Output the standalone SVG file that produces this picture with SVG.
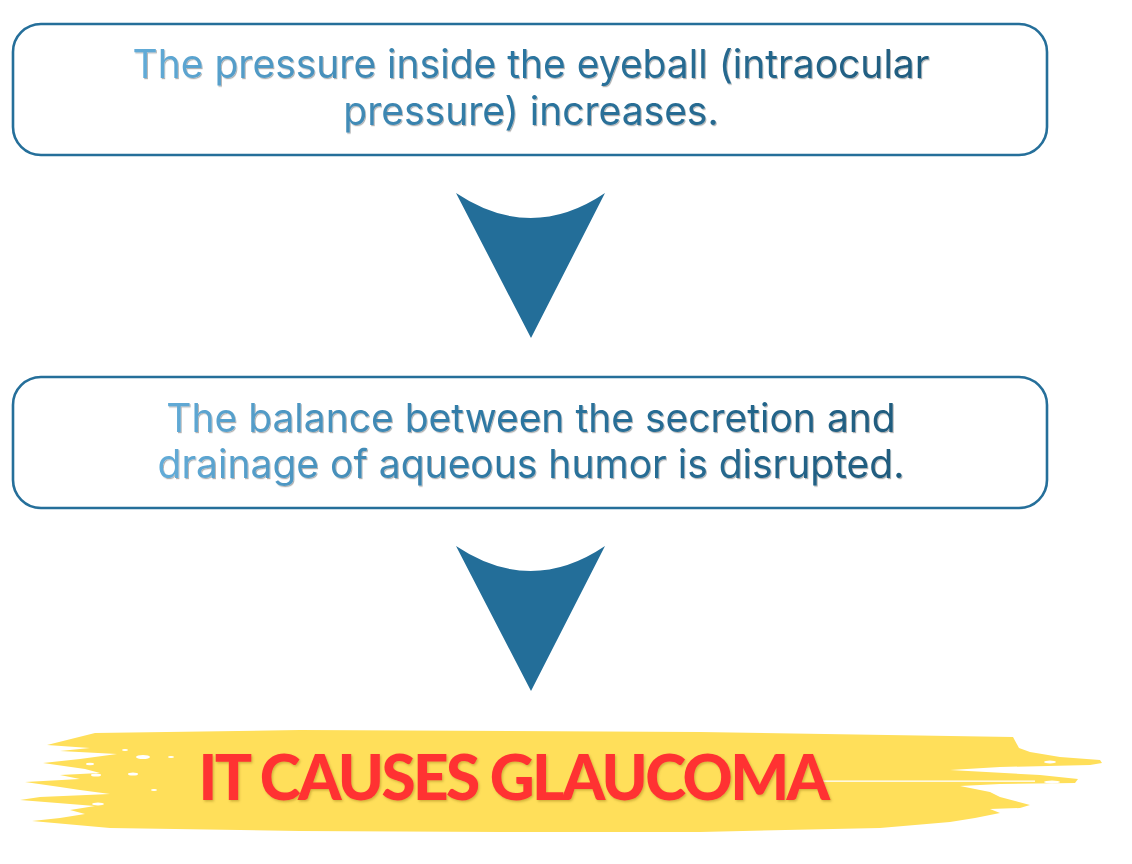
<svg xmlns="http://www.w3.org/2000/svg" width="1132" height="864" viewBox="0 0 1132 864">
<defs>
<linearGradient id="tg1" gradientUnits="userSpaceOnUse" x1="133" y1="0" x2="930" y2="0">
<stop offset="0" stop-color="#63acd8"/>
<stop offset="0.45" stop-color="#2d77a2"/>
<stop offset="1" stop-color="#1f5b7d"/>
</linearGradient>
<linearGradient id="tg2" gradientUnits="userSpaceOnUse" x1="157" y1="0" x2="905" y2="0">
<stop offset="0" stop-color="#63acd8"/>
<stop offset="0.45" stop-color="#2d77a2"/>
<stop offset="1" stop-color="#1f5b7d"/>
</linearGradient>
<filter id="sh" x="-5%" y="-20%" width="110%" height="140%">
<feDropShadow dx="1" dy="1.2" stdDeviation="0.7" flood-color="#000" flood-opacity="0.3"/>
</filter>
<filter id="sh2" x="-5%" y="-20%" width="110%" height="140%">
<feDropShadow dx="1.2" dy="1.5" stdDeviation="0.8" flood-color="#7a5a00" flood-opacity="0.35"/>
</filter>
</defs>
<style>
.box{fill:#fff;stroke:#256f9a;stroke-width:2.6}
.txt{font-family:Inter,"Noto Sans",sans-serif;font-size:39px;text-anchor:middle}
.arrow{fill:#236e99}
.speck{fill:#fff}
.head{font-family:Lato,"Open Sans",sans-serif;font-weight:900;font-size:62px;letter-spacing:-2.6px;fill:#ff3333;text-anchor:middle}
</style>
<rect width="1132" height="864" fill="#fff"/>

<g id="node1">
<rect class="box" x="13" y="24" width="1034" height="131" rx="28"/>
<text class="txt" fill="url(#tg1)" filter="url(#sh)"><tspan x="531" y="78">The pressure inside the eyeball (intraocular</tspan><tspan x="531" y="125">pressure) increases.</tspan></text>
</g>

<g id="node2">
<rect class="box" x="13" y="377" width="1034" height="131" rx="28"/>
<text class="txt" fill="url(#tg2)" filter="url(#sh)"><tspan x="531" y="432">The balance between the secretion and</tspan><tspan x="531" y="478">drainage of aqueous humor is disrupted.</tspan></text>
</g>

<g id="connectors">
<path class="arrow" d="M456,193 Q531,243 605,193 L531,338 Z"/>
<path class="arrow" d="M456,546 Q531,596 605,546 L531,691 Z"/>
</g>

<g id="node3">
<path fill="#ffdf5a" d="M47,745 L95,733 L300,730 L700,732 L1013,737 L1019,748 L1030,752 L1060,757 L1100,760 L1102,763 L1090,765 L1000,767 L950,770 L1040,775 L1078,779 L1075,783 L1000,784 L960,786 L990,792 L1000,797 L1030,805 L1020,808 L990,809 L1000,813 L975,818 L950,822 L880,828 L700,832 L500,832 L300,831 L110,828 L32,821 L60,818 L85,814 L70,810 L95,806 L20,800 L40,797 L110,794 L80,790 L60,787 L25,782 L80,779 L60,775 L100,773 L85,769 L43,763 L80,759 L117,754 L60,751 L90,748 Z"/>
<rect class="speck" x="820" y="780.5" width="215" height="1.3"/>
<ellipse class="speck" cx="143" cy="757" rx="7" ry="2"/>
<ellipse class="speck" cx="96" cy="775" rx="5" ry="1.5"/>
<ellipse class="speck" cx="133" cy="774" rx="5" ry="1.5"/>
<ellipse class="speck" cx="98" cy="804" rx="6" ry="1.5"/>
<ellipse class="speck" cx="90" cy="764" rx="4" ry="1.2"/>
<ellipse class="speck" cx="125" cy="750" rx="3" ry="1"/>
<ellipse class="speck" cx="154" cy="790" rx="3" ry="1"/>
<ellipse class="speck" cx="171" cy="757" rx="3" ry="1"/>
<ellipse class="speck" cx="1052" cy="782" rx="8" ry="1.5"/>
<ellipse class="speck" cx="1052" cy="800" rx="4" ry="1"/>
<ellipse class="speck" cx="1050" cy="762" rx="6" ry="1.5"/>
<ellipse class="speck" cx="1000" cy="816" rx="4" ry="1"/>
<text class="head" x="513" y="800" filter="url(#sh2)">IT CAUSES GLAUCOMA</text>
</g>
</svg>
